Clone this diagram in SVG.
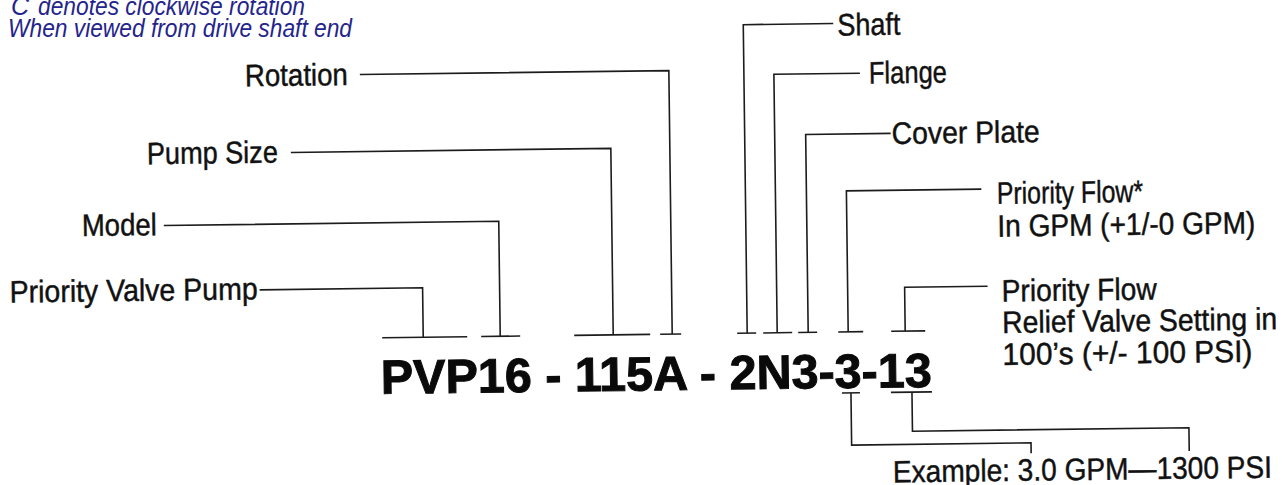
<svg xmlns="http://www.w3.org/2000/svg" width="1285" height="485" viewBox="0 0 1285 485">
<style>
.lbl{font-family:"Liberation Sans",Arial,sans-serif;font-size:31px;fill:#111;stroke:#111;stroke-width:0.45;}
.code{font-family:"Liberation Sans",Arial,sans-serif;font-weight:bold;font-size:48px;fill:#0a0a0a;stroke:#0a0a0a;stroke-width:1;}
.note{font-family:"Liberation Sans",Arial,sans-serif;font-style:italic;font-size:25px;fill:#24248c;}
.ln{fill:none;stroke:#1c1c1c;stroke-width:1.6;stroke-linecap:butt;}
</style>
<rect width="1285" height="485" fill="#ffffff"/>
<g id="note">
<text class="note" y="15"><tspan x="11">C</tspan><tspan x="38" textLength="267" lengthAdjust="spacingAndGlyphs">denotes clockwise rotation</tspan></text>
<text class="note" x="8" y="37" textLength="344" lengthAdjust="spacingAndGlyphs">When viewed from drive shaft end</text>
</g>
<g transform="rotate(-0.73 640 240)">
<g id="code"><text class="code" x="379" y="390.5" textLength="551" lengthAdjust="spacingAndGlyphs">PVP16 - 115A - 2N3-3-13</text></g>
<g id="n-priority-valve-pump"><text class="lbl" x="9" y="294.5" textLength="248" lengthAdjust="spacingAndGlyphs">Priority Valve Pump</text></g>
<g id="n-model"><text class="lbl" x="82" y="229" textLength="75" lengthAdjust="spacingAndGlyphs">Model</text></g>
<g id="n-pump-size"><text class="lbl" x="148" y="158" textLength="131" lengthAdjust="spacingAndGlyphs">Pump Size</text></g>
<g id="n-rotation"><text class="lbl" x="247" y="81.3" textLength="103" lengthAdjust="spacingAndGlyphs">Rotation</text></g>
<g id="n-shaft"><text class="lbl" x="840" y="38" textLength="63" lengthAdjust="spacingAndGlyphs">Shaft</text></g>
<g id="n-flange"><text class="lbl" x="871" y="86.4" textLength="78" lengthAdjust="spacingAndGlyphs">Flange</text></g>
<g id="n-cover-plate"><text class="lbl" x="893" y="147.2" textLength="148" lengthAdjust="spacingAndGlyphs">Cover Plate</text></g>
<g id="n-priority-flow-gpm">
<text class="lbl" x="997.5" y="208.4" textLength="146" lengthAdjust="spacingAndGlyphs">Priority Flow*</text>
<text class="lbl" x="997.5" y="241.2" textLength="258" lengthAdjust="spacingAndGlyphs">In GPM (+1/-0 GPM)</text>
</g>
<g id="n-priority-flow-relief">
<text class="lbl" x="1001" y="306" textLength="155" lengthAdjust="spacingAndGlyphs">Priority Flow</text>
<text class="lbl" x="1001" y="337.5" textLength="275" lengthAdjust="spacingAndGlyphs">Relief Valve Setting in</text>
<text class="lbl" x="1001" y="369.5" textLength="250" lengthAdjust="spacingAndGlyphs">100’s (+/- 100 PSI)</text>
</g>
<g id="n-example"><text class="lbl" x="890" y="485.6" textLength="379" lengthAdjust="spacingAndGlyphs">Example: 3.0 GPM—1300 PSI</text></g>
<g id="connectors">
<polyline class="ln" points="259,285 422,285 422,334.5"/>
<line class="ln" x1="381" y1="334.5" x2="466" y2="334.5"/>
<polyline class="ln" points="164,219.5 499,219.5 499,334.5"/>
<line class="ln" x1="480" y1="334.5" x2="519" y2="334.5"/>
<polyline class="ln" points="292,148 612,148 612,334.5"/>
<line class="ln" x1="573" y1="334.5" x2="649" y2="334.5"/>
<polyline class="ln" points="362,71 671,71 671,334.5"/>
<line class="ln" x1="659" y1="334.5" x2="680" y2="334.5"/>
<polyline class="ln" points="836,26 746,26 746,334.5"/>
<line class="ln" x1="736" y1="334.5" x2="755" y2="334.5"/>
<polyline class="ln" points="862,76 776,76 776,334.5"/>
<line class="ln" x1="762" y1="334.5" x2="791" y2="334.5"/>
<polyline class="ln" points="892,136.6 807,136.6 807,334.5"/>
<line class="ln" x1="797" y1="334.5" x2="816" y2="334.5"/>
<polyline class="ln" points="982,193.5 847,193.5 847,334.5"/>
<line class="ln" x1="837" y1="334.5" x2="862" y2="334.5"/>
<polyline class="ln" points="987,290.6 904,290.6 904,334.5"/>
<line class="ln" x1="890" y1="334.5" x2="924" y2="334.5"/>
<line class="ln" x1="840" y1="395.6" x2="858" y2="395.6"/>
<polyline class="ln" points="849,395.6 849,447.8 1028.4,447.8 1028.4,458.3"/>
<line class="ln" x1="889" y1="395.6" x2="930" y2="395.6"/>
<polyline class="ln" points="910,395.6 910,434.7 1186.5,434.7 1186.5,458"/>
</g>
</g>
</svg>
